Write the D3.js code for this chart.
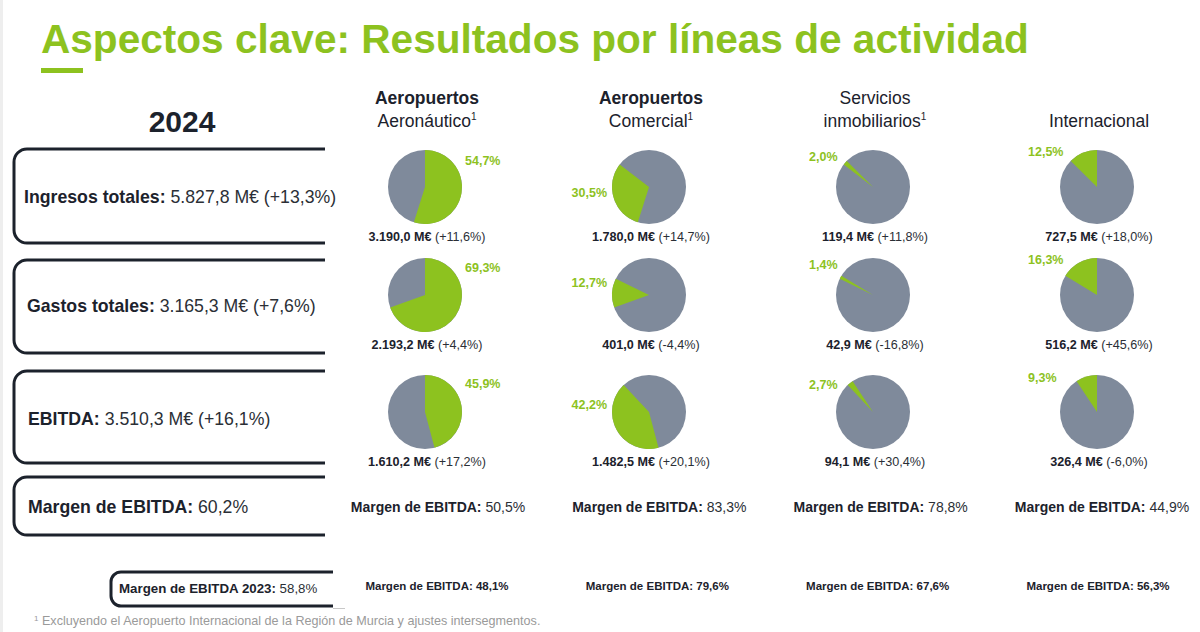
<!DOCTYPE html>
<html><head><meta charset="utf-8">
<script src="https://cdn.jsdelivr.net/npm/d3@7/dist/d3.min.js"></script>
<style>
html,body{margin:0;padding:0;background:#fff;}
svg{display:block;font-family:"Liberation Sans",Arial,sans-serif;}
</style></head>
<body>
<svg id="chart" width="1200" height="632"></svg>
<script>
// ---------- DATA ----------
const title = "Aspectos clave: Resultados por líneas de actividad";
const yearLabel = "2024";
const segments = ["Aeronáutico", "Comercial", "Inmobiliarios", "Internacional"];
const headerLine1 = ["Aeropuertos", "Aeropuertos", "Servicios", ""];
const headerLine1Bold = [true, true, false, false];
const headerLine2 = ["Aeronáutico", "Comercial", "inmobiliarios", "Internacional"];
const headerSup = ["1", "1", "1", ""];
const metrics = ["Ingresos totales", "Gastos totales", "EBITDA"];
const metricTotals = ["5.827,8 M€", "3.165,3 M€", "3.510,3 M€"];
const metricChanges = ["+13,3%", "+7,6%", "+16,1%"];
const shareIngresos = [54.7, 30.5, 2.0, 12.5];
const shareGastos = [69.3, 12.7, 1.4, 16.3];
const shareEbitda = [45.9, 42.2, 2.7, 9.3];
const valueIngresos = ["3.190,0", "1.780,0", "119,4", "727,5"];
const changeIngresos = ["+11,6%", "+14,7%", "+11,8%", "+18,0%"];
const valueGastos = ["2.193,2", "401,0", "42,9", "516,2"];
const changeGastos = ["+4,4%", "-4,4%", "-16,8%", "+45,6%"];
const valueEbitda = ["1.610,2", "1.482,5", "94,1", "326,4"];
const changeEbitda = ["+17,2%", "+20,1%", "+30,4%", "-6,0%"];
const marginLabel = "Margen de EBITDA";
const totalMargin2024 = "60,2%";
const totalMargin2023 = "58,8%";
const margin2024 = ["50,5%", "83,3%", "78,8%", "44,9%"];
const margin2023 = ["48,1%", "79,6%", "67,6%", "56,3%"];
const footnote = "Excluyendo el Aeropuerto Internacional de la Región de Murcia y ajustes intersegmentos.";

const shares = [shareIngresos, shareGastos, shareEbitda];
const values = [valueIngresos, valueGastos, valueEbitda];
const changes = [changeIngresos, changeGastos, changeEbitda];

// ---------- STYLE / LAYOUT ----------
const GREEN = "#8dc21f", GREY = "#7f8a9b", DARK = "#1c222c", TXT = "#2b2f36";
const svg = d3.select("#chart");

const x = d3.scalePoint().domain(segments).range([425, 1097]);
const xMargin = d3.scalePoint().domain(segments).range([438, 1102]);
const xMargin23 = d3.scalePoint().domain(segments).range([437, 1098]);
const y = d3.scaleOrdinal().domain(metrics).range([187, 295, 412]);
const R = 37;

// percent-label offsets per column (dx, anchor) and per row dy
const lblDx = [40, -42, -64, -69];
const lblAnchor = ["start", "end", "start", "start"];
const lblDy = [[-22, -23, -24], [10, -8, -3], [-26, -26, -23], [-31, -31, -30]];

// left faint border
svg.append("rect").attr("x", 0).attr("y", 0).attr("width", 3).attr("height", 632).attr("fill", "#eeeeee");

// title
svg.append("text").attr("x", 41).attr("y", 53).attr("fill", GREEN)
  .attr("font-size", 40.6).attr("font-weight", "bold").text(title);
svg.append("rect").attr("x", 41).attr("y", 68).attr("width", 42).attr("height", 5).attr("fill", GREEN);

// year
svg.append("text").attr("x", 182).attr("y", 132).attr("text-anchor", "middle")
  .attr("fill", DARK).attr("font-size", 30).attr("font-weight", "bold").text(yearLabel);

// bracket boxes
function bracket(x0, x1, y0, y1, r) {
  return `M${x1},${y0} H${x0 + r} A${r},${r} 0 0 0 ${x0},${y0 + r} V${y1 - r} A${r},${r} 0 0 0 ${x0 + r},${y1} H${x1}`;
}
const boxes = [[14, 325, 149, 243], [14, 325, 260, 353], [14, 325, 371, 463], [14, 325, 477, 535]];
boxes.forEach(b => svg.append("path").attr("d", bracket(b[0], b[1], b[2], b[3], 13))
  .attr("fill", "none").attr("stroke", DARK).attr("stroke-width", 3));
svg.append("path").attr("d", bracket(111, 333, 572, 606, 10))
  .attr("fill", "none").attr("stroke", DARK).attr("stroke-width", 3);
svg.append("line").attr("x1", 333).attr("x2", 345).attr("y1", 608.5).attr("y2", 608.5)
  .attr("stroke", "#c8c8c8").attr("stroke-width", 1);

// box texts
const boxTextY = [203, 312, 425];
const boxTextX = [24, 27, 28];
metrics.forEach((m, i) => {
  const t = svg.append("text").attr("x", boxTextX[i]).attr("y", boxTextY[i])
    .attr("font-size", 17.7).attr("fill", DARK);
  t.append("tspan").attr("font-weight", "bold").text(m + ":");
  t.append("tspan").attr("fill", TXT).text(` ${metricTotals[i]} (${metricChanges[i]})`);
});
{
  const t = svg.append("text").attr("x", 28).attr("y", 513).attr("font-size", 17.7).attr("fill", DARK);
  t.append("tspan").attr("font-weight", "bold").text(marginLabel + ":");
  t.append("tspan").attr("fill", TXT).text(" " + totalMargin2024);
}
{
  const t = svg.append("text").attr("x", 119).attr("y", 593).attr("font-size", 13.3).attr("fill", DARK);
  t.append("tspan").attr("font-weight", "bold").text(marginLabel + " 2023:");
  t.append("tspan").attr("fill", TXT).text(" " + totalMargin2023);
}

// column headers
segments.forEach((s, j) => {
  const cx = x(s) + 2;
  if (headerLine1[j]) {
    svg.append("text").attr("x", cx).attr("y", 104).attr("text-anchor", "middle")
      .attr("font-size", 17.5).attr("fill", DARK)
      .attr("font-weight", headerLine1Bold[j] ? "bold" : "normal").text(headerLine1[j]);
  }
  const t = svg.append("text").attr("x", cx).attr("y", 127).attr("text-anchor", "middle")
    .attr("font-size", 17.5).attr("fill", DARK);
  t.append("tspan").text(headerLine2[j]);
  if (headerSup[j]) t.append("tspan").attr("font-size", 10).attr("dy", -7).text(headerSup[j]);
});

// pies
const pie = d3.pie().sort(null).value(d => d);
const arc = d3.arc().innerRadius(0).outerRadius(R);
metrics.forEach((m, i) => {
  const arcs = pie(shares[i]);
  segments.forEach((s, j) => {
    const cx = x(s), cy = y(m);
    const g = svg.append("g").attr("transform", `translate(${cx},${cy})`);
    // grey base (the other segments), then the column's own segment in green
    g.append("circle").attr("r", R).attr("fill", GREY);
    g.append("path").attr("d", arc(arcs[j])).attr("fill", GREEN);
    // percent label
    svg.append("text").attr("x", cx + lblDx[j]).attr("y", cy + lblDy[j][i])
      .attr("text-anchor", lblAnchor[j]).attr("font-size", 12.5).attr("font-weight", "bold")
      .attr("fill", GREEN).text(d3.format(".1f")(shares[i][j]).replace(".", ",") + "%");
    // value label
    const t = svg.append("text").attr("x", cx + 2).attr("y", cy + 54).attr("text-anchor", "middle")
      .attr("font-size", 12.6).attr("fill", DARK);
    t.append("tspan").attr("font-weight", "bold").text(values[i][j] + " M€");
    t.append("tspan").attr("fill", TXT).text(` (${changes[i][j]})`);
  });
});

// margins
segments.forEach((s, j) => {
  const t = svg.append("text").attr("x", xMargin(s)).attr("y", 512).attr("text-anchor", "middle")
    .attr("font-size", 14).attr("fill", DARK);
  t.append("tspan").attr("font-weight", "bold").text(marginLabel + ":");
  t.append("tspan").attr("fill", TXT).text(" " + margin2024[j]);
  svg.append("text").attr("x", xMargin23(s)).attr("y", 590).attr("text-anchor", "middle")
    .attr("font-size", 11.5).attr("fill", DARK).attr("font-weight", "bold")
    .text(`${marginLabel}: ${margin2023[j]}`);
});

// footnote
{
  const t = svg.append("text").attr("x", 34).attr("y", 625).attr("font-size", 12.6).attr("fill", "#9a9a9a");
  t.append("tspan").attr("font-size", 8).attr("dy", -4).text("1");
  t.append("tspan").attr("dy", 4).text(" " + footnote);
}
</script>
</body></html>
